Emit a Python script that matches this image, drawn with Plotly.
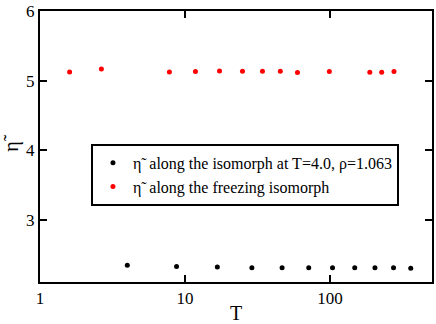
import plotly.graph_objects as go

T_iso = [4.0, 8.74, 16.7, 28.9, 46.7, 71.3, 104, 148, 204, 274, 360]
eta_iso = [2.352, 2.333, 2.324, 2.315, 2.315, 2.315, 2.315, 2.315, 2.315, 2.315, 2.306]

T_freeze = [1.6, 2.65, 7.8, 11.8, 17.3, 24.9, 34.2, 45.4, 59.6, 98.9, 188, 227, 276]
eta_freeze = [5.126, 5.167, 5.126, 5.13, 5.14, 5.135, 5.135, 5.135, 5.116, 5.13, 5.121, 5.121, 5.13]

name_iso = "η̃  along the isomorph at T=4.0, ρ=1.063"
name_freeze = "η̃  along the freezing isomorph"

font_family = "Liberation Serif"

fig = go.Figure()
fig.add_trace(go.Scatter(x=T_iso, y=eta_iso, mode="markers", name=name_iso,
                         marker=dict(color="black", size=5)))
fig.add_trace(go.Scatter(x=T_freeze, y=eta_freeze, mode="markers", name=name_freeze,
                         marker=dict(color="red", size=5)))

fig.update_layout(
    template="simple_white",
    width=436, height=324,
    margin=dict(l=34, r=2, t=10, b=37),
    paper_bgcolor="white", plot_bgcolor="white",
    font=dict(family=font_family, size=17, color="black"),
    showlegend=True,
    legend=dict(x=0.13, y=0.51, xanchor="left", yanchor="top",
                bordercolor="black", borderwidth=2, bgcolor="white",
                font=dict(family=font_family, size=16, color="black"),
                tracegroupgap=0, itemwidth=30),
    xaxis=dict(type="log", range=[0, 2.703], tick0=0, dtick=1,
               showline=True, linecolor="black", linewidth=2, mirror="ticks",
               ticks="inside", tickcolor="black", tickwidth=2, ticklen=7,
               showgrid=False, zeroline=False,
               tickfont=dict(family=font_family, size=17, color="black"),
               title=dict(text="T", standoff=0)),
    yaxis=dict(range=[2.11, 6], tick0=0, dtick=1,
               showline=True, linecolor="black", linewidth=2, mirror="ticks",
               ticks="inside", tickcolor="black", tickwidth=2, ticklen=7,
               showgrid=False, zeroline=False,
               tickfont=dict(family=font_family, size=17, color="black"),
               title=dict(text="η̃", standoff=10)),
)

fig.write_html("out.html", config={"displayModeBar": False},
               post_script="document.body.style.margin='0';")
